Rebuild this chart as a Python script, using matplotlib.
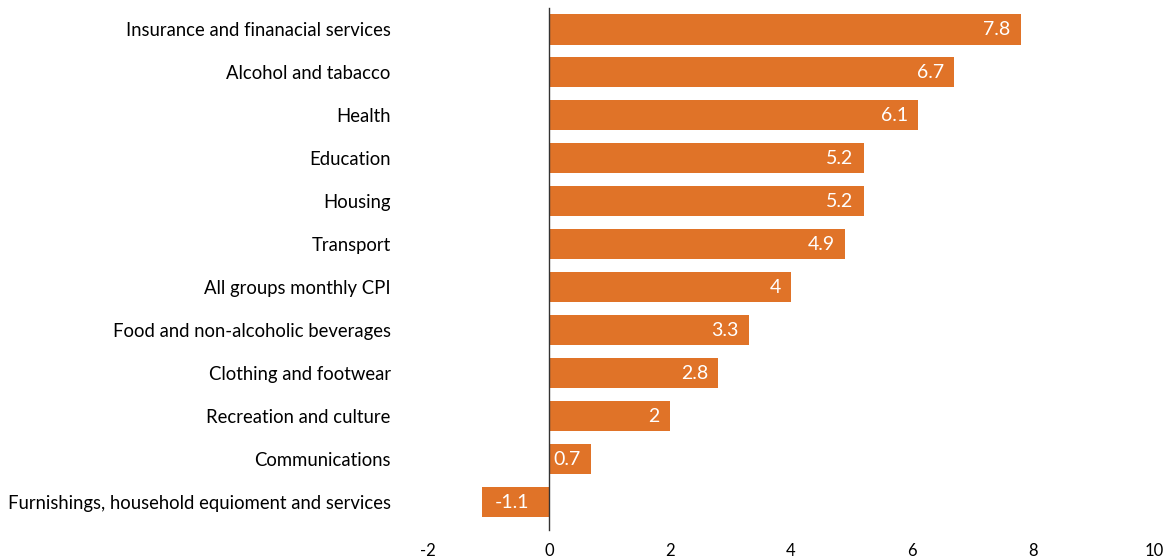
import matplotlib
matplotlib.use("Agg")
import matplotlib.pyplot as plt

# CPI change by group (%)
categories = ["Insurance and finanacial services", "Alcohol and tabacco", "Health",
              "Education", "Housing", "Transport", "All groups monthly CPI",
              "Food and non-alcoholic beverages", "Clothing and footwear",
              "Recreation and culture", "Communications",
              "Furnishings, household equioment and services"]
values = [7.8, 6.7, 6.1, 5.2, 5.2, 4.9, 4, 3.3, 2.8, 2, 0.7, -1.1]
value_labels = ["7.8", "6.7", "6.1", "5.2", "5.2", "4.9", "4", "3.3", "2.8", "2", "0.7", "-1.1"]
xticks = [-2, 0, 2, 4, 6, 8, 10]

plt.rcParams['font.family'] = ['Lato', 'DejaVu Sans']
barColor = "#E07328"

fig = plt.figure(figsize=(11.7, 5.6), dpi=100)
ax = fig.add_axes([428 / 1170, 30 / 560, (1154 - 428) / 1170, (552 - 30) / 560])

# spines first: moving a spine resets the tick objects
for s in ["top", "right", "bottom"]:
    ax.spines[s].set_visible(False)
ax.spines["left"].set_position(("data", 0))
ax.spines["left"].set_color("#333333")
ax.spines["left"].set_linewidth(1)

ypos = list(range(len(categories)))
bars = ax.barh(ypos, values, height=0.7, color=barColor)

# value labels sit inside the end of each bar
for bar, val, lbl in zip(bars, values, value_labels):
    yc = bar.get_y() + bar.get_height() / 2
    if val >= 0:
        ax.annotate(lbl, xy=(val, yc), xytext=(-7.5, 0), textcoords="offset points",
                    ha="right", va="center", color="white", fontsize=14)
    else:
        ax.annotate(lbl, xy=(0, yc), xytext=(-14, 0), textcoords="offset points",
                    ha="right", va="center", color="white", fontsize=14)

ax.set_xlim(-2, 10)
ax.set_ylim(11.65, -0.5)
ax.set_xticks(xticks)
ax.set_xticklabels([str(t) for t in xticks])
ax.set_yticks(ypos)
ax.set_yticklabels(categories)
ax.tick_params(axis="both", length=0)
ax.tick_params(axis="y", pad=114, labelsize=13.35)
ax.tick_params(axis="x", pad=9, labelsize=12)

fig.savefig("out.png", dpi=100)
